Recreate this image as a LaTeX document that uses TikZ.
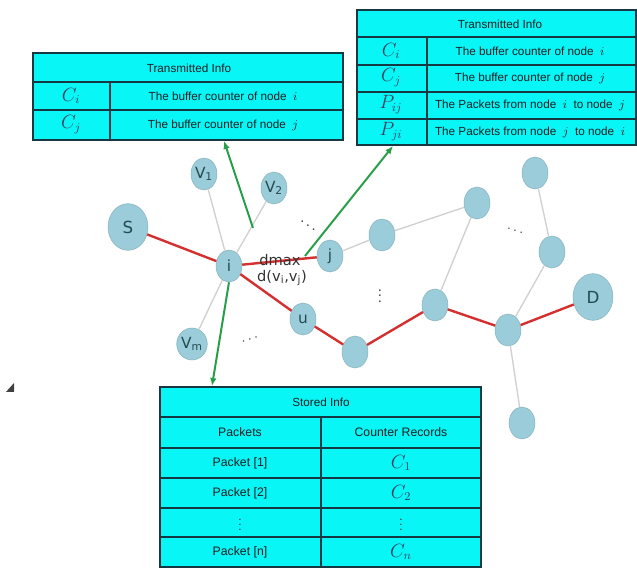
\documentclass[tikz,border=0pt]{standalone}
\usepackage{fontspec}
\setmainfont{Liberation Sans}
\newfontfamily\graphfont{DejaVu Sans}
\usetikzlibrary{arrows.meta,shapes.geometric}

\definecolor{nodeblue}{RGB}{155,204,217}
\definecolor{nodetext}{RGB}{35,75,80}
\definecolor{routered}{RGB}{212,48,48}
\definecolor{linkgray}{RGB}{208,208,208}
\definecolor{infogreen}{RGB}{40,158,72}
\definecolor{cellcyan}{RGB}{8,246,246}
\definecolor{cellline}{RGB}{22,56,66}
\definecolor{celltext}{RGB}{30,30,35}
\definecolor{cellmath}{RGB}{55,65,95}

\tikzset{every picture/.style={line width=0.75pt},
  vertex/.style={ellipse, fill=nodeblue, draw=nodeblue!88!black, line width=0.4pt, inner sep=0pt,
    minimum width=19.5pt, minimum height=24pt, text=nodetext, font=\graphfont\fontsize{11.5}{12}\selectfont},
  endvertex/.style={vertex, minimum width=30pt, minimum height=35pt, font=\graphfont\fontsize{12.5}{13}\selectfont},
  route/.style={draw=routered, line width=1.8pt},
  link/.style={draw=linkgray, line width=1pt},
  infoarrow/.style={draw=infogreen, line width=1.5pt, -{Latex[length=6pt,width=5pt]}},
  cellbox/.style={fill=cellcyan, draw=cellline, line width=1.3pt},
  cellrule/.style={draw=cellline, line width=1.3pt},
  celltext/.style={text=celltext, inner sep=1pt, font=\fontsize{8.8}{10}\selectfont},
  cellmath/.style={text=cellmath, inner sep=1pt, font=\fontsize{13.5}{14}\selectfont},
  dotsmark/.style={text=black!75, font=\fontsize{11}{12}\selectfont, inner sep=0pt}
}

\begin{document}
\begin{tikzpicture}[x=0.75pt,y=0.75pt,yscale=-1,xscale=1]
\useasboundingbox (0,0) rectangle (637,570);

%Shape: Triangle
\fill[black!75] (6,392) -- (14,392) -- (14,383) -- cycle;

%Shape: Rectangle (transmitted info, left)
\draw[cellbox] (33,53) rectangle (343,140);
\draw[cellrule] (33,82) -- (343,82);
\draw[cellrule] (33,110) -- (343,110);
\draw[cellrule] (110,82) -- (110,140);
% Text Node
\node[celltext] (lefttitle) at (189,68) {Transmitted Info};
\node[cellmath] (leftci) at (71,96) {$C_i$};
\node[celltext] (leftcidesc) at (223,96) {The buffer counter of node~ $i$};
\node[cellmath] (leftcj) at (71,125) {$C_j$};
\node[celltext] (leftcjdesc) at (223,125) {The buffer counter of node~ $j$};

%Shape: Rectangle (transmitted info, right)
\draw[cellbox] (357,10) rectangle (636,145);
\draw[cellrule] (357,37) -- (636,37);
\draw[cellrule] (357,65) -- (636,65);
\draw[cellrule] (357,92) -- (636,92);
\draw[cellrule] (357,119) -- (636,119);
\draw[cellrule] (427,37) -- (427,145);
% Text Node
\node[celltext] (righttitle) at (500,24) {Transmitted Info};
\node[cellmath] (rightci) at (391,51) {$C_i$};
\node[celltext] (rightcidesc) at (530,51) {The buffer counter of node~ $i$};
\node[cellmath] (rightcj) at (391,78) {$C_j$};
\node[celltext] (rightcjdesc) at (530,78) {The buffer counter of node~ $j$};
\node[cellmath] (rightpij) at (391,105) {$P_{ij}$};
\node[celltext] (rightpijdesc) at (530,105) {The Packets from node~ $i$~ to node~ $j$};
\node[cellmath] (rightpji) at (391,132) {$P_{ji}$};
\node[celltext] (rightpjidesc) at (530,132) {The Packets from node~ $j$~ to node~ $i$};

%Shape: Rectangle (stored info)
\draw[cellbox] (160,387) rectangle (481,567);
\draw[cellrule] (160,417) -- (481,417);
\draw[cellrule] (160,448) -- (481,448);
\draw[cellrule] (160,478) -- (481,478);
\draw[cellrule] (160,508) -- (481,508);
\draw[cellrule] (160,537) -- (481,537);
\draw[cellrule] (321,417) -- (321,567);
% Text Node
\node[celltext] (storedtitle) at (321,402) {Stored Info};
\node[celltext, font=\fontsize{9.2}{10}\selectfont] (packethead) at (240,432) {Packets};
\node[celltext, font=\fontsize{9.2}{10}\selectfont] (counterhead) at (401,432) {Counter Records};
\node[celltext, font=\fontsize{9.2}{10}\selectfont] (packetone) at (240,463) {Packet [1]};
\node[cellmath] (counterone) at (401,463) {$C_1$};
\node[celltext, font=\fontsize{9.2}{10}\selectfont] (packettwo) at (240,493) {Packet [2]};
\node[cellmath] (countertwo) at (401,493) {$C_2$};
\node[celltext, inner sep=0pt] (packetdots) at (240,521) {$\vdots$};
\node[celltext, inner sep=0pt] (counterdots) at (401,521) {$\vdots$};
\node[celltext, font=\fontsize{9.2}{10}\selectfont] (packetn) at (240,552) {Packet [n]};
\node[cellmath] (countern) at (401,552) {$C_n$};

%Shape: Ellipse (network nodes)
\node[endvertex] (s) at (128,227) {S};
\node[endvertex] (d) at (593,297) {D};
\node[vertex] (i) at (229,266) {i};
\node[vertex] (v1) at (204,174) {V\textsubscript{1}};
\node[vertex] (v2) at (274,188) {V\textsubscript{2}};
\node[vertex] (vm) at (192,344) {V\textsubscript{m}};
\node[vertex] (j) at (330,256) {j};
\node[vertex] (u) at (303,319) {u};
\node[vertex] (p1) at (355,352) {};
\node[vertex] (a) at (382,235) {};
\node[vertex] (b) at (477,203) {};
\node[vertex] (c) at (435,305) {};
\node[vertex] (e) at (535,173) {};
\node[vertex] (f) at (552,252) {};
\node[vertex] (g) at (508,330) {};
\node[vertex] (h) at (522,423) {};

%Straight Lines (links)
\draw[link] (i) -- (v1);
\draw[link] (i) -- (v2);
\draw[link] (i) -- (vm);
\draw[link] (j) -- (a);
\draw[link] (a) -- (b);
\draw[link] (b) -- (c);
\draw[link] (e) -- (f);
\draw[link] (f) -- (g);
\draw[link] (g) -- (h);

%Straight Lines (route)
\draw[route] (s) -- (i);
\draw[route] (i) -- (j);
\draw[route] (i) -- (u);
\draw[route] (u) -- (p1);
\draw[route] (p1) -- (c);
\draw[route] (c) -- (g);
\draw[route] (g) -- (d);

%Straight Lines (info arrows)
\coordinate (leftstart) at (253,228);
\coordinate (leftfoot) at (224,141);
\coordinate (rightstart) at (305,256);
\coordinate (rightfoot) at (393,146);
\coordinate (storedtop) at (212,386);
\draw[infoarrow] (leftstart) -- (leftfoot);
\draw[infoarrow] (rightstart) -- (rightfoot);
\draw[infoarrow] (i.south) -- (storedtop);

% Text Node
\node[text=black!80, font=\graphfont\fontsize{11}{12}\selectfont, inner sep=0pt] (dmax) at (280,260) {dmax};
\node[text=black!80, font=\graphfont\fontsize{11}{12}\selectfont, inner sep=0pt] (dvivj) at (282,278) {d(v\textsubscript{i},v\textsubscript{j})};
\node[dotsmark] (dotsup) at (308,222) {$\ddots$};
\node[dotsmark, rotate=15] (dotsdown) at (250,340) {$\cdots$};
\node[dotsmark] (dotsmid) at (380,292) {$\vdots$};
\node[dotsmark, rotate=-20] (dotsright) at (515,231) {$\cdots$};

\end{tikzpicture}
\end{document}
